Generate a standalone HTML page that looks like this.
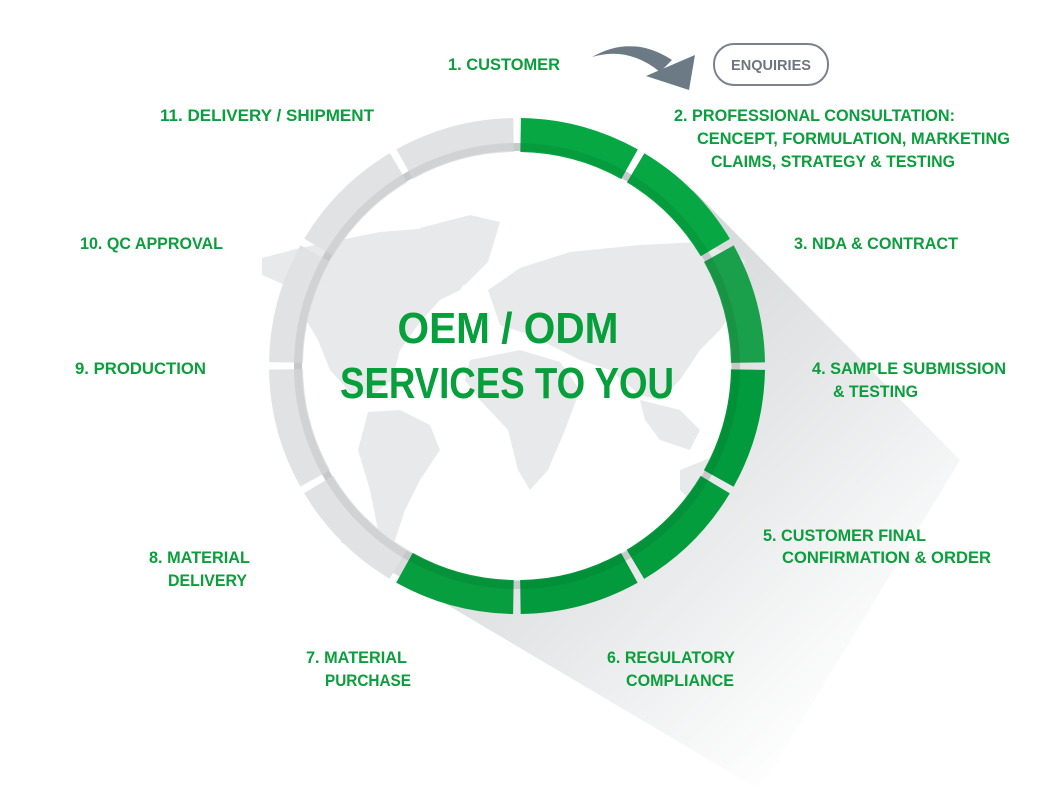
<!DOCTYPE html>
<html><head><meta charset="utf-8"><style>
html,body{margin:0;padding:0;background:#fff;width:1060px;height:792px;overflow:hidden}
svg{display:block}
.t{font-family:"Liberation Sans",sans-serif;font-size:17px;fill:#0b9e3c;font-weight:bold}
</style></head><body>
<svg width="1060" height="792" viewBox="0 0 1060 792" xmlns="http://www.w3.org/2000/svg">
<defs>
<linearGradient id="sh" x1="0.2" y1="0.2" x2="0.85" y2="0.85">
<stop offset="0" stop-color="#cfd2d4"/><stop offset="0.5" stop-color="#e4e6e7"/><stop offset="1" stop-color="#fff"/>
</linearGradient>
</defs>
<polygon points="693,190 960,460 760,790 341,542" fill="url(#sh)"/>
<circle cx="517" cy="366" r="214" fill="#fff"/>
<g fill="#e8e9ea">
<path d="M262,258 L300,248 L340,240 L380,232 L430,228 L470,240 L480,262 L460,290 L440,300 L420,322 L400,350 L392,380 L372,396 L350,392 L330,370 L318,340 L300,310 L285,285 L262,275 Z"/>
<path d="M420,228 L470,215 L500,222 L488,262 L465,285 L440,270 Z"/>
<path d="M368,412 L400,410 L430,425 L440,450 L420,480 L405,510 L395,540 L385,560 L378,530 L370,490 L358,450 Z"/>
<path d="M488,290 L520,268 L570,252 L640,245 L700,242 L745,260 L740,300 L720,330 L700,350 L680,380 L660,400 L640,395 L610,370 L580,360 L560,350 L530,335 L500,325 Z"/>
<path d="M470,360 L520,350 L560,362 L580,390 L565,430 L548,470 L530,490 L518,470 L508,430 L480,400 L465,380 Z"/>
<path d="M680,470 L710,458 L740,468 L745,495 L725,508 L695,505 L680,490 Z"/>
<path d="M640,400 L680,410 L700,430 L690,450 L660,440 L645,420 Z"/>
</g>
<circle cx="517" cy="366" r="219" fill="none" stroke="#d6d8d9" stroke-width="8"/>
<g fill="none" stroke-width="34">
<circle cx="517" cy="366" r="231" stroke="#07a843" stroke-dasharray="113.9 1400" transform="rotate(-89.1 517 366)"/>
<circle cx="517" cy="366" r="231" stroke="#07a843" stroke-dasharray="113.9 1400" transform="rotate(-59.1 517 366)"/>
<circle cx="517" cy="366" r="231" stroke="#1aa04a" stroke-dasharray="113.9 1400" transform="rotate(-29.1 517 366)"/>
<circle cx="517" cy="366" r="231" stroke="#019b3d" stroke-dasharray="113.9 1400" transform="rotate(0.9 517 366)"/>
<circle cx="517" cy="366" r="231" stroke="#049d3e" stroke-dasharray="113.9 1400" transform="rotate(30.9 517 366)"/>
<circle cx="517" cy="366" r="231" stroke="#029a3d" stroke-dasharray="113.9 1400" transform="rotate(60.9 517 366)"/>
<circle cx="517" cy="366" r="231" stroke="#079e3f" stroke-dasharray="113.9 1400" transform="rotate(90.9 517 366)"/>
<circle cx="517" cy="366" r="231" stroke="#e1e2e3" stroke-dasharray="113.9 1400" transform="rotate(120.9 517 366)"/>
<circle cx="517" cy="366" r="231" stroke="#e1e2e3" stroke-dasharray="113.9 1400" transform="rotate(150.9 517 366)"/>
<circle cx="517" cy="366" r="231" stroke="#e1e2e3" stroke-dasharray="113.9 1400" transform="rotate(180.9 517 366)"/>
<circle cx="517" cy="366" r="231" stroke="#e1e2e3" stroke-dasharray="113.9 1400" transform="rotate(210.9 517 366)"/>
<circle cx="517" cy="366" r="231" stroke="#e1e2e3" stroke-dasharray="113.9 1400" transform="rotate(240.9 517 366)"/>
</g>
<circle cx="517" cy="366" r="219" fill="none" stroke="#000" stroke-opacity="0.07" stroke-width="8"/>
<text x="508" y="343" text-anchor="middle" font-family="Liberation Sans,sans-serif" font-size="44" font-weight="bold" fill="#079e3c" textLength="221" lengthAdjust="spacingAndGlyphs">OEM / ODM</text>
<text x="507" y="398" text-anchor="middle" font-family="Liberation Sans,sans-serif" font-size="44" font-weight="bold" fill="#079e3c" textLength="334" lengthAdjust="spacingAndGlyphs">SERVICES TO YOU</text>
<path d="M592,57 Q632,34 672,60 L660,72 Q628,46 592,57 Z" fill="#6c7a86"/>
<polygon points="646,76 695,55 689,90" fill="#6c7a86"/>
<rect x="714" y="44" width="114" height="41" rx="20" fill="#fff" stroke="#7a838b" stroke-width="2"/>
<text x="771" y="70" text-anchor="middle" font-family="Liberation Sans,sans-serif" font-size="15" font-weight="bold" fill="#6d7680" textLength="80" lengthAdjust="spacingAndGlyphs">ENQUIRIES</text>
<g class="t">
<text x="448" y="70" textLength="112" lengthAdjust="spacingAndGlyphs">1. CUSTOMER</text>
<text x="160" y="121" textLength="214" lengthAdjust="spacingAndGlyphs">11.  DELIVERY / SHIPMENT</text>
<text x="674" y="121" textLength="281" lengthAdjust="spacingAndGlyphs">2. PROFESSIONAL CONSULTATION:</text>
<text x="697" y="144" textLength="313" lengthAdjust="spacingAndGlyphs">CENCEPT, FORMULATION, MARKETING</text>
<text x="711" y="167" textLength="244" lengthAdjust="spacingAndGlyphs">CLAIMS, STRATEGY &amp; TESTING</text>
<text x="794" y="249" textLength="164" lengthAdjust="spacingAndGlyphs">3. NDA &amp; CONTRACT</text>
<text x="80" y="249" textLength="143" lengthAdjust="spacingAndGlyphs">10. QC APPROVAL</text>
<text x="812" y="374" textLength="194" lengthAdjust="spacingAndGlyphs">4. SAMPLE SUBMISSION</text>
<text x="833" y="397" textLength="85" lengthAdjust="spacingAndGlyphs">&amp; TESTING</text>
<text x="75" y="374" textLength="131" lengthAdjust="spacingAndGlyphs">9. PRODUCTION</text>
<text x="763" y="541" textLength="163" lengthAdjust="spacingAndGlyphs">5. CUSTOMER FINAL</text>
<text x="782" y="563" textLength="209" lengthAdjust="spacingAndGlyphs">CONFIRMATION &amp; ORDER</text>
<text x="149" y="563" textLength="101" lengthAdjust="spacingAndGlyphs">8. MATERIAL</text>
<text x="168" y="586" textLength="79" lengthAdjust="spacingAndGlyphs">DELIVERY</text>
<text x="306" y="663" textLength="101" lengthAdjust="spacingAndGlyphs">7. MATERIAL</text>
<text x="325" y="686" textLength="86" lengthAdjust="spacingAndGlyphs">PURCHASE</text>
<text x="607" y="663" textLength="128" lengthAdjust="spacingAndGlyphs">6. REGULATORY</text>
<text x="626" y="686" textLength="108" lengthAdjust="spacingAndGlyphs">COMPLIANCE</text>
</g>
</svg>
</body></html>
